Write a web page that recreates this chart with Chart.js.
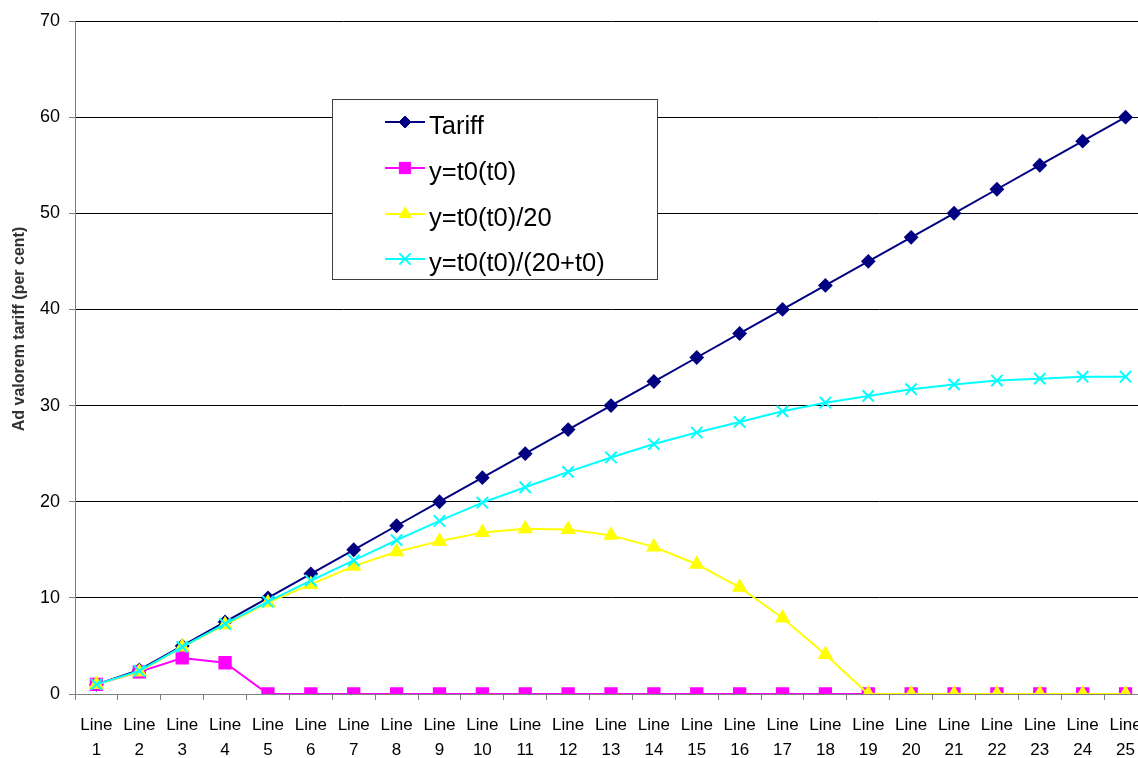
<!DOCTYPE html>
<html>
<head>
<meta charset="utf-8">
<script src="https://cdn.jsdelivr.net/npm/chart.js@4.4.0/dist/chart.umd.min.js"></script>
<style>
  html, body { margin: 0; padding: 0; background: #fff; overflow: hidden; }
  canvas { display: block; }
</style>
</head>
<body>
<canvas id="tariffChart" width="1157" height="758" style="width:1157px;height:758px"></canvas>
<script>
const categories = [];
for (let i = 1; i <= 25; i++) categories.push(["Line", String(i)]);

const tariff = [1, 2.5, 5, 7.5, 10, 12.5, 15, 17.5, 20, 22.5, 25, 27.5, 30, 32.5, 35, 37.5, 40, 42.5, 45, 47.5, 50, 52.5, 55, 57.5, 60];
const yT0 = [1, 2.3, 3.75, 3.25, 0, 0, 0, 0, 0, 0, 0, 0, 0, 0, 0, 0, 0, 0, 0, 0, 0, 0, 0, 0, 0];
const yT0Over20 = [1, 2.3, 4.9, 7.2, 9.5, 11.4, 13.3, 14.8, 15.9, 16.8, 17.2, 17.1, 16.5, 15.3, 13.5, 11.1, 7.9, 4.1, 0, 0, 0, 0, 0, 0, 0];
const yT0Over20t = [1, 2.4, 4.9, 7.3, 9.6, 11.8, 13.9, 16, 18, 19.9, 21.5, 23.1, 24.6, 26, 27.2, 28.3, 29.4, 30.3, 31, 31.7, 32.2, 32.6, 32.8, 33, 33];
const yTicks = [0, 10, 20, 30, 40, 50, 60, 70];
const yTitle = "Ad valorem tariff (per cent)";

// y title sits a bit above the middle in the original, so draw it by hand
const sideTitle = {
  id: "sideTitle",
  afterDraw(chart) {
    const ctx = chart.ctx;
    ctx.save();
    ctx.translate(20, 329);
    ctx.rotate(-Math.PI / 2);
    ctx.fillStyle = "#333";
    ctx.font = "bold 16px 'Liberation Sans', Arial, sans-serif";
    ctx.textAlign = "center";
    ctx.textBaseline = "middle";
    ctx.fillText(yTitle, 0, 0);
    ctx.restore();
  }
};

// legend drawn inside the plot, like the original
const boxLegend = {
  id: "boxLegend",
  afterDraw(chart) {
    const ctx = chart.ctx;
    const x = 332, y = 99, w = 325, h = 180;
    ctx.save();
    ctx.fillStyle = "#fff";
    ctx.fillRect(x, y, w, h);
    ctx.strokeStyle = "#404040";
    ctx.lineWidth = 1;
    ctx.strokeRect(x + 0.5, y + 0.5, w, h);
    const rows = [122, 168, 214, 259];
    chart.data.datasets.forEach((ds, i) => {
      const ry = rows[i];
      ctx.strokeStyle = ds.borderColor;
      ctx.lineWidth = 2;
      ctx.beginPath();
      ctx.moveTo(385, ry);
      ctx.lineTo(425, ry);
      ctx.stroke();
      ctx.fillStyle = ds.pointBackgroundColor;
      ctx.strokeStyle = ds.borderColor;
      ctx.lineWidth = ds.pointBorderWidth || 1;
      Chart.helpers.drawPoint(ctx, {
        pointStyle: ds.pointStyle,
        radius: ds.pointRadius,
        borderWidth: ds.pointBorderWidth || 1
      }, 405, ry);
      ctx.fillStyle = "#000";
      ctx.font = "25.5px 'Liberation Sans', Arial, sans-serif";
      ctx.textBaseline = "middle";
      ctx.textAlign = "left";
      ctx.fillText(ds.label, 429, ry + 5);
    });
    ctx.restore();
  }
};

const ctx = document.getElementById("tariffChart").getContext("2d");

new Chart(ctx, {
  type: "line",
  data: {
    labels: categories,
    datasets: [
      {
        label: "Tariff",
        data: tariff,
        borderColor: "#000080",
        backgroundColor: "#000080",
        pointBackgroundColor: "#000080",
        borderWidth: 2,
        pointStyle: "rectRot",
        pointRadius: 6,
        order: 4,
      },
      {
        label: "y=t0(t0)",
        data: yT0,
        borderColor: "#ff00ff",
        backgroundColor: "#ff00ff",
        pointBackgroundColor: "#ff00ff",
        borderWidth: 2,
        pointStyle: "rect",
        pointRadius: 8,
        order: 3,
      },
      {
        label: "y=t0(t0)/20",
        data: yT0Over20,
        borderColor: "#ffff00",
        backgroundColor: "#ffff00",
        pointBackgroundColor: "#ffff00",
        borderWidth: 2,
        pointStyle: "triangle",
        pointRadius: 7,
        order: 2,
      },
      {
        label: "y=t0(t0)/(20+t0)",
        data: yT0Over20t,
        borderColor: "#00ffff",
        backgroundColor: "#00ffff",
        pointBackgroundColor: "#00ffff",
        borderWidth: 2,
        pointStyle: "crossRot",
        pointRadius: 8,
        pointBorderWidth: 2,
        order: 1,
      },
    ],
  },
  options: {
    responsive: false,
    animation: false,
    layout: { padding: { top: 21, right: 0, left: 0, bottom: 0 } },
    plugins: {
      legend: { display: false },
      tooltip: { enabled: false },
    },
    scales: {
      x: {
        offset: true,
        afterFit(axis) {
          axis.height = 64;
        },
        grid: {
          offset: true,
          drawOnChartArea: false,
          drawTicks: true,
          tickLength: 6,
          tickColor: "#808080",
        },
        border: { color: "#808080", width: 1 },
        ticks: {
          color: "#000",
          maxRotation: 0,
          autoSkip: false,
          padding: 13,
          font: { family: "'Liberation Sans', Arial, sans-serif", size: 17, lineHeight: 1.47 },
        },
      },
      y: {
        min: 0,
        max: 70,
        afterBuildTicks(axis) {
          axis.ticks = yTicks.map((v) => ({ value: v }));
        },
        afterFit(axis) {
          axis.width = 75;
        },
        grid: {
          color: "#000",
          lineWidth: 1,
          tickLength: 6,
          tickColor: "#808080",
        },
        border: { color: "#808080", width: 1 },
        ticks: {
          color: "#000",
          padding: 9,
          font: { family: "'Liberation Sans', Arial, sans-serif", size: 18 },
        },
      },
    },
  },
  plugins: [boxLegend, sideTitle],
});
</script>
</body>
</html>
